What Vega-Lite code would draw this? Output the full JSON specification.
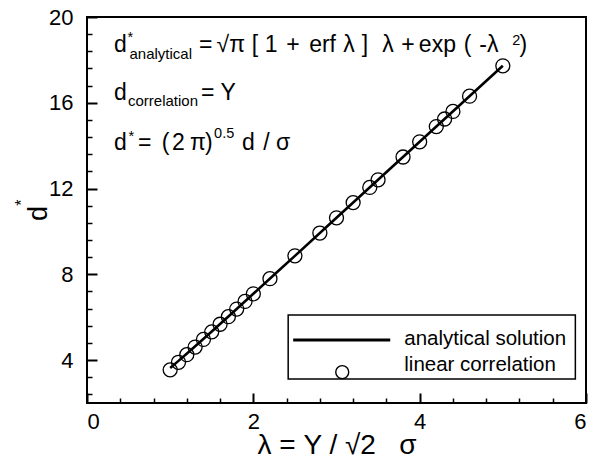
{
  "$schema": "https://vega.github.io/schema/vega-lite/v6.json",
  "width": 499,
  "height": 386,
  "autosize": {"type": "none"},
  "padding": {"left": 87, "top": 17, "right": 16, "bottom": 57},
  "background": "white",
  "config": {
    "font": "Liberation Sans",
    "view": {"stroke": "black", "strokeWidth": 2},
    "axis": {"grid": false, "domain": false, "tickColor": "black", "labelColor": "black", "labelFont": "Liberation Sans", "labelFontSize": 22, "titleColor": "black", "titleFont": "Liberation Sans", "titleFontWeight": "normal"},
    "text": {"font": "Liberation Sans", "color": "black"}
  },
  "datasets": {
    "analytical": [
      {"lam": 1.0, "d": 3.634}, {"lam": 1.1, "d": 3.964}, {"lam": 1.25, "d": 4.470},
      {"lam": 1.5, "d": 5.333}, {"lam": 1.75, "d": 6.209}, {"lam": 2.0, "d": 7.092},
      {"lam": 2.25, "d": 7.977}, {"lam": 2.5, "d": 8.862}, {"lam": 3.0, "d": 10.635},
      {"lam": 3.5, "d": 12.407}, {"lam": 4.0, "d": 14.180}, {"lam": 4.5, "d": 15.952},
      {"lam": 5.0, "d": 17.725}
    ],
    "correlation": [
      {"lam": 1.0, "d": 3.545}, {"lam": 1.1, "d": 3.899}, {"lam": 1.2, "d": 4.254},
      {"lam": 1.3, "d": 4.608}, {"lam": 1.4, "d": 4.963}, {"lam": 1.5, "d": 5.317},
      {"lam": 1.6, "d": 5.672}, {"lam": 1.7, "d": 6.026}, {"lam": 1.8, "d": 6.381},
      {"lam": 1.9, "d": 6.735}, {"lam": 2.0, "d": 7.090}, {"lam": 2.2, "d": 7.799},
      {"lam": 2.5, "d": 8.862}, {"lam": 2.8, "d": 9.926}, {"lam": 3.0, "d": 10.635},
      {"lam": 3.2, "d": 11.344}, {"lam": 3.4, "d": 12.053}, {"lam": 3.5, "d": 12.407},
      {"lam": 3.8, "d": 13.471}, {"lam": 4.0, "d": 14.180}, {"lam": 4.2, "d": 14.889},
      {"lam": 4.3, "d": 15.243}, {"lam": 4.4, "d": 15.598}, {"lam": 4.6, "d": 16.307},
      {"lam": 5.0, "d": 17.725}
    ],
    "eqMain": [
      {"t": "d", "x": 0.325, "y": 18.368},
      {"t": "=", "x": 1.348, "y": 18.368},
      {"t": "√π", "x": 1.558, "y": 18.368},
      {"t": "[", "x": 1.98, "y": 18.368},
      {"t": "1", "x": 2.136, "y": 18.368},
      {"t": "+", "x": 2.395, "y": 18.368},
      {"t": "erf", "x": 2.671, "y": 18.368},
      {"t": "λ", "x": 3.081, "y": 18.368},
      {"t": "]", "x": 3.303, "y": 18.368},
      {"t": "λ", "x": 3.55, "y": 18.368},
      {"t": "+", "x": 3.78, "y": 18.368},
      {"t": "exp", "x": 3.99, "y": 18.368},
      {"t": "(", "x": 4.531, "y": 18.368},
      {"t": "-λ", "x": 4.717, "y": 18.368},
      {"t": ")", "x": 5.199, "y": 18.368},
      {"t": "d", "x": 0.325, "y": 16.129},
      {"t": "= Y", "x": 1.372, "y": 16.129},
      {"t": "d", "x": 0.325, "y": 13.797},
      {"t": "=", "x": 0.614, "y": 13.797},
      {"t": "(", "x": 0.9, "y": 13.797},
      {"t": "2", "x": 1.023, "y": 13.797},
      {"t": "π", "x": 1.239, "y": 13.797},
      {"t": ")", "x": 1.42, "y": 13.797},
      {"t": "d", "x": 1.865, "y": 13.797},
      {"t": "/", "x": 2.118, "y": 13.797},
      {"t": "σ", "x": 2.274, "y": 13.797}
    ],
    "eqSub": [
      {"t": "analytical", "x": 0.511, "y": 18.041},
      {"t": "correlation", "x": 0.493, "y": 15.849}
    ],
    "eqSup": [
      {"t": "*", "x": 0.487, "y": 18.834},
      {"t": "2", "x": 5.114, "y": 18.694},
      {"t": "*", "x": 0.5, "y": 14.216},
      {"t": "0.5", "x": 1.528, "y": 14.356}
    ],
    "yTitle": [{"t": "d", "x": -0.481, "y": 10.835}],
    "yTitleSup": [{"t": "*", "x": -0.722, "y": 11.348}],
    "legendLabels": [
      {"label": "analytical solution", "x": 3.815, "y": 4.70},
      {"label": "linear correlation", "x": 3.815, "y": 3.49}
    ]
  },
  "resolve": {"axis": {"x": "independent", "y": "independent"}},
  "layer": [
    {
      "data": {"name": "analytical"},
      "mark": {"type": "line", "color": "black", "strokeWidth": 2.6},
      "encoding": {
        "x": {"field": "lam", "type": "quantitative", "scale": {"domain": [0, 6], "nice": false, "zero": false},
          "axis": {"orient": "bottom", "values": [0, 2, 4, 6], "tickSize": -10, "tickWidth": 2, "labelPadding": 18,
            "title": "λ = Y / √2\u00a0\u00a0\u00a0σ", "titleFontSize": 28, "titleY": 50, "titleBaseline": "alphabetic"}},
        "y": {"field": "d", "type": "quantitative", "scale": {"domain": [2, 20], "nice": false, "zero": false},
          "axis": {"orient": "left", "values": [4, 8, 12, 16, 20], "tickSize": -10, "tickWidth": 2, "labelPadding": 24, "title": null}}
      }
    },
    {
      "data": {"name": "correlation"},
      "mark": {"type": "point", "shape": "circle", "filled": false, "stroke": "black", "strokeWidth": 1.3, "size": 196, "opacity": 1},
      "encoding": {
        "x": {"field": "lam", "type": "quantitative", "scale": {"domain": [0, 6], "nice": false, "zero": false},
          "axis": {"orient": "bottom", "values": [0.4, 0.8, 1.2, 1.6, 2.4, 2.8, 3.2, 3.6, 4.4, 4.8, 5.2, 5.6], "tickSize": -5, "tickWidth": 1.5, "labels": false, "title": null}},
        "y": {"field": "d", "type": "quantitative", "scale": {"domain": [2, 20], "nice": false, "zero": false},
          "axis": {"orient": "left", "values": [2.4, 3.2, 4.8, 5.6, 6.4, 7.2, 8.8, 9.6, 10.4, 11.2, 12.8, 13.6, 14.4, 15.2, 16.8, 17.6, 18.4, 19.2], "tickSize": -5, "tickWidth": 1.5, "labels": false, "title": null}}
      }
    },
    {
      "data": {"values": [{}]},
      "mark": {"type": "rect", "fill": "white", "stroke": "black", "strokeWidth": 1.5},
      "encoding": {
        "x": {"datum": 2.419, "type": "quantitative", "axis": null},
        "x2": {"datum": 5.872},
        "y": {"datum": 3.12, "type": "quantitative", "axis": null},
        "y2": {"datum": 6.10}
      }
    },
    {
      "data": {"values": [{}]},
      "mark": {"type": "rule", "color": "black", "strokeWidth": 3},
      "encoding": {
        "x": {"datum": 2.479, "type": "quantitative", "axis": null},
        "x2": {"datum": 3.646},
        "y": {"datum": 4.935, "type": "quantitative", "axis": null}
      }
    },
    {
      "data": {"values": [{}]},
      "mark": {"type": "point", "shape": "circle", "filled": false, "stroke": "black", "strokeWidth": 1.4, "size": 169, "opacity": 1},
      "encoding": {
        "x": {"datum": 3.069, "type": "quantitative", "axis": null},
        "y": {"datum": 3.44, "type": "quantitative", "axis": null}
      }
    },
    {
      "data": {"name": "legendLabels"},
      "mark": {"type": "text", "fontSize": 20.5, "align": "left", "baseline": "alphabetic"},
      "encoding": {
        "x": {"field": "x", "type": "quantitative", "axis": null},
        "y": {"field": "y", "type": "quantitative", "axis": null},
        "text": {"field": "label"}
      }
    },
    {
      "data": {"name": "eqMain"},
      "mark": {"type": "text", "fontSize": 23, "align": "left", "baseline": "alphabetic"},
      "encoding": {
        "x": {"field": "x", "type": "quantitative", "axis": null},
        "y": {"field": "y", "type": "quantitative", "axis": null},
        "text": {"field": "t"}
      }
    },
    {
      "data": {"name": "eqSub"},
      "mark": {"type": "text", "fontSize": 15, "align": "left", "baseline": "alphabetic"},
      "encoding": {
        "x": {"field": "x", "type": "quantitative", "axis": null},
        "y": {"field": "y", "type": "quantitative", "axis": null},
        "text": {"field": "t"}
      }
    },
    {
      "data": {"name": "eqSup"},
      "mark": {"type": "text", "fontSize": 14.5, "align": "left", "baseline": "alphabetic"},
      "encoding": {
        "x": {"field": "x", "type": "quantitative", "axis": null},
        "y": {"field": "y", "type": "quantitative", "axis": null},
        "text": {"field": "t"}
      }
    },
    {
      "data": {"name": "yTitle"},
      "mark": {"type": "text", "fontSize": 27, "align": "center", "baseline": "alphabetic", "angle": 270},
      "encoding": {
        "x": {"field": "x", "type": "quantitative", "axis": null},
        "y": {"field": "y", "type": "quantitative", "axis": null},
        "text": {"field": "t"}
      }
    },
    {
      "data": {"name": "yTitleSup"},
      "mark": {"type": "text", "fontSize": 16, "align": "center", "baseline": "alphabetic", "angle": 270},
      "encoding": {
        "x": {"field": "x", "type": "quantitative", "axis": null},
        "y": {"field": "y", "type": "quantitative", "axis": null},
        "text": {"field": "t"}
      }
    }
  ]
}
